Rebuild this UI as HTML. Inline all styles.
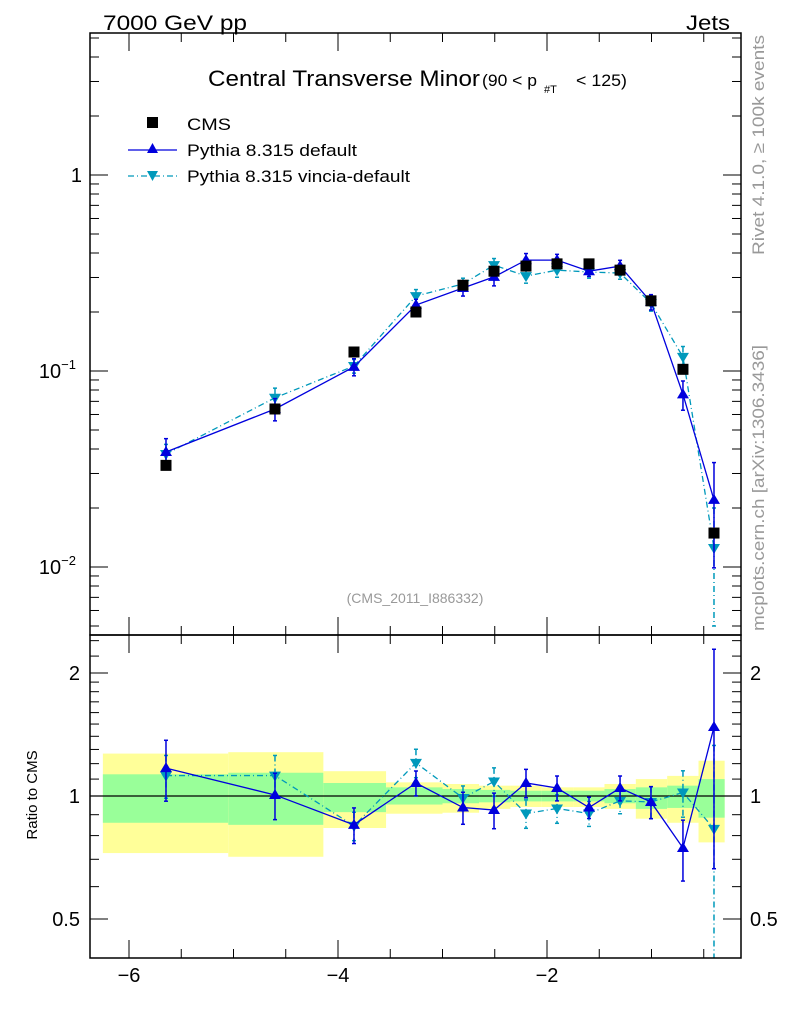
<!DOCTYPE html>
<html><head><meta charset="utf-8">
<style>
html,body{margin:0;padding:0;background:#fff;}
svg{display:block;font-family:"Liberation Sans",Arial,sans-serif;}
</style></head>
<body>
<svg id="chart" width="786" height="1024" viewBox="0 0 786 1024" xmlns="http://www.w3.org/2000/svg">
<text x="103" y="30" font-size="21" textLength="144" lengthAdjust="spacingAndGlyphs">7000 GeV pp</text>
<text x="686" y="30" font-size="21" textLength="44" lengthAdjust="spacingAndGlyphs">Jets</text>
<g>
<text x="208" y="86" font-size="22" textLength="272" lengthAdjust="spacingAndGlyphs">Central Transverse Minor</text>
<text x="482" y="86" font-size="17" textLength="55" lengthAdjust="spacingAndGlyphs">(90 &lt; p</text>
<text x="544" y="93" font-size="11">#T</text>
<text x="576" y="86" font-size="17" textLength="51" lengthAdjust="spacingAndGlyphs">&lt; 125)</text>
</g>
<text x="415" y="603" font-size="14" fill="#999" text-anchor="middle">(CMS_2011_I886332)</text>
<text transform="translate(764,255) rotate(-90)" font-size="17" fill="#999" textLength="220" lengthAdjust="spacingAndGlyphs">Rivet 4.1.0, ≥ 100k events</text>
<text transform="translate(764,631) rotate(-90)" font-size="17" fill="#999" textLength="286" lengthAdjust="spacingAndGlyphs">mcplots.cern.ch [arXiv:1306.3436]</text>
<text transform="translate(37,795) rotate(-90)" font-size="15" text-anchor="middle">Ratio to CMS</text>
<g>
  <rect x="147" y="117" width="11" height="11" fill="#000"/>
  <text x="187" y="130" font-size="17" textLength="44" lengthAdjust="spacingAndGlyphs">CMS</text>
  <line x1="128" y1="150" x2="177" y2="150" stroke="#0000dd" stroke-width="1.3"/>
  <polygon points="152.5,143 158,153 147,153" fill="#0000dd"/>
  <text x="187" y="156" font-size="17" textLength="170" lengthAdjust="spacingAndGlyphs">Pythia 8.315 default</text>
  <line x1="128" y1="176" x2="177" y2="176" stroke="#0099bb" stroke-width="1.3" stroke-dasharray="6,3,1,3"/>
  <polygon points="147,171 158,171 152.5,181" fill="#0099bb"/>
  <text x="187" y="182" font-size="17" textLength="223" lengthAdjust="spacingAndGlyphs">Pythia 8.315 vincia-default</text>
</g>
<g id="plot"></g>
</svg>
<script>
const xCenters=[-5.646,-4.603,-3.847,-3.254,-2.804,-2.507,-2.201,-1.904,-1.598,-1.301,-1.005,-0.699,-0.402];
const binEdges=[-6.25,-5.05,-4.14,-3.54,-3.0,-2.65,-2.35,-2.05,-1.75,-1.45,-1.15,-0.85,-0.55,-0.30];
const cmsValues=[0.033,0.064,0.125,0.2,0.274,0.323,0.343,0.352,0.352,0.327,0.228,0.102,0.0149];
const defaultValues=[0.0386,0.064,0.105,0.217,0.265,0.302,0.368,0.368,0.323,0.343,0.225,0.076,0.022];
const vinciaValues=[0.0377,0.073,0.106,0.241,0.278,0.347,0.305,0.327,0.32,0.316,0.222,0.118,0.0125];
const defaultRatio=[1.17,1.006,0.85,1.076,0.937,0.924,1.076,1.046,0.937,1.046,0.967,0.746,1.475];
const vinciaRatio=[1.122,1.122,0.845,1.205,0.989,1.085,0.906,0.932,0.906,0.973,0.967,1.02,0.831];
const defaultErr=[0.17,0.13,0.1,0.07,0.09,0.1,0.08,0.07,0.06,0.07,0.09,0.17,0.55];
const vinciaErr=[0.12,0.12,0.08,0.08,0.07,0.08,0.08,0.08,0.07,0.07,0.09,0.13,0.6];
const yellowHi=[1.27,1.28,1.15,1.08,1.07,1.06,1.06,1.05,1.05,1.07,1.10,1.12,1.22];
const yellowLo=[0.725,0.71,0.835,0.905,0.91,0.93,0.94,0.94,0.94,0.93,0.88,0.86,0.77];
const greenHi=[1.13,1.14,1.076,1.05,1.04,1.035,1.03,1.03,1.03,1.04,1.05,1.06,1.1];
const greenLo=[0.86,0.85,0.913,0.953,0.96,0.965,0.97,0.97,0.97,0.96,0.93,0.935,0.885];

const NS='http://www.w3.org/2000/svg';
const g=document.getElementById('plot');
const L=90,R=741,T1=33,B1=635,T2=635,B2=958;
const X=v=>129+(v+6)*104.5;
const Y1=v=>175-Math.log10(v)*196;
const Y2=v=>796-Math.log10(v)*408.6;
function mk(tag,attrs,parent){const e=document.createElementNS(NS,tag);for(const k in attrs)e.setAttribute(k,attrs[k]);(parent||g).appendChild(e);return e;}

const defs=mk('defs',{});
const c1=mk('clipPath',{id:'c1'},defs);mk('rect',{x:L,y:T1,width:R-L,height:B1-T1},c1);
const c2=mk('clipPath',{id:'c2'},defs);mk('rect',{x:L,y:T2,width:R-L,height:B2-T2},c2);

const bands=mk('g',{'clip-path':'url(#c2)'});


for(let i=0;i<yellowHi.length;i++){
  const x0=X(binEdges[i]),x1=X(binEdges[i+1]);
  const y=mk('rect',{x:x0,y:Y2(yellowHi[i]),width:x1-x0,height:Y2(yellowLo[i])-Y2(yellowHi[i]),fill:'#ffff99'},bands);
  
  
  const gr=mk('rect',{x:x0,y:Y2(greenHi[i]),width:x1-x0,height:Y2(greenLo[i])-Y2(greenHi[i]),fill:'#99ff99'},bands);
  
  
}
mk('line',{x1:L,x2:R,y1:Y2(1),y2:Y2(1),stroke:'#000','stroke-width':1.3});

function series(vals,errs,yf,color,dash,up,clip,name){
  const s=mk('g',{'clip-path':clip});
  
  
  const pts=vals.map((v,i)=>X(xCenters[i])+','+yf(v)).join(' ');
  const pl=mk('polyline',{points:pts,fill:'none',stroke:color,'stroke-width':1.3},s);
  if(dash)pl.setAttribute('stroke-dasharray',dash);
  vals.forEach((v,i)=>{
    const x=X(xCenters[i]);const yt=yf(v*(1+errs[i]));const yb=yf(Math.max(v*(1-errs[i]),1e-4));
    const e=mk('line',{x1:x,x2:x,y1:yt,y2:yb,stroke:color,'stroke-width':1.5},s);
    if(dash)e.setAttribute('stroke-dasharray',dash);
    mk('line',{x1:x-2,x2:x+2,y1:yt,y2:yt,stroke:color,'stroke-width':1.5},s);
    mk('line',{x1:x-2,x2:x+2,y1:yb,y2:yb,stroke:color,'stroke-width':1.5},s);
    const y=yf(v);
    const p=mk('polygon',{points:up?`${x},${y-6} ${x+6},${y+4} ${x-6},${y+4}`:`${x-6},${y-4} ${x+6},${y-4} ${x},${y+6}`,fill:color},s);
    
    
  });
}
series(vinciaValues,vinciaErr,Y1,'#0099bb','6,3,1,3',false,'url(#c1)','vincia-series');
series(defaultValues,defaultErr,Y1,'#0000dd',null,true,'url(#c1)','default-series');
const cms=mk('g',{});


cmsValues.forEach((v,i)=>{
  const r=mk('rect',{x:X(xCenters[i])-5.5,y:Y1(v)-5.5,width:11,height:11,fill:'#000'},cms);
  
  
});
series(vinciaRatio,vinciaErr,Y2,'#0099bb','6,3,1,3',false,'url(#c2)','vincia-ratio-series');
series(defaultRatio,defaultErr,Y2,'#0000dd',null,true,'url(#c2)','default-ratio-series');

mk('rect',{x:L,y:T1,width:R-L,height:B1-T1,fill:'none',stroke:'#000','stroke-width':1.5});
mk('rect',{x:L,y:T2,width:R-L,height:B2-T2,fill:'none',stroke:'#000','stroke-width':1.5});

for(let v=-6.5;v<=-0.1;v+=0.5){
  const x=X(v);if(x<L||x>R)continue;
  const major=Math.abs(v-Math.round(v/2)*2)<1e-6;
  const len=major?18:9;
  [[T1,1],[B1,-1],[T2,1],[B2,-1]].forEach(([y,d])=>mk('line',{x1:x,x2:x,y1:y,y2:y+d*len,stroke:'#000','stroke-width':1}));
  if(major){const t=mk('text',{x:x,y:B2+24,'font-size':20,'text-anchor':'middle'});t.textContent='\u2212'+Math.abs(v);
    
    }
}
for(let k=-3;k<=1;k++){for(let m=1;m<=9;m++){
  const v=m*Math.pow(10,k);const y=Y1(v);if(y<T1||y>B1)continue;
  const len=m===1?18:9;
  mk('line',{x1:L,x2:L+len,y1:y,y2:y,stroke:'#000'});mk('line',{x1:R,x2:R-len,y1:y,y2:y,stroke:'#000'});
}}
const ylab=[[1,'1',''],[0.1,'10','\u22121'],[0.01,'10','\u22122']];
ylab.forEach(([v,b,e])=>{
  const t=mk('text',{x:e?76:82,y:Y1(v)+7,'font-size':20,'text-anchor':'end'});
  
  
  t.textContent=b;
  if(e){const ts=mk('tspan',{'font-size':13,dy:-9},t);ts.textContent=e;}
});
[0.4,0.5,0.6,0.7,0.8,0.9,1,1.1,1.2,1.3,1.4,1.5,1.6,1.7,1.8,1.9,2,2.2,2.4].forEach(v=>{
  const y=Y2(v);if(y<T2||y>B2)return;
  const len=(v===0.5||v===1||v===2)?18:9;
  mk('line',{x1:L,x2:L+len,y1:y,y2:y,stroke:'#000'});mk('line',{x1:R,x2:R-len,y1:y,y2:y,stroke:'#000'});
});
[[0.5,'0.5'],[1,'1'],[2,'2']].forEach(([v,s])=>{
  const a=mk('text',{x:80,y:Y2(v)+7,'font-size':20,'text-anchor':'end'});a.textContent=s;
  
  
  const b=mk('text',{x:750,y:Y2(v)+7,'font-size':20});b.textContent=s;
  
  
});
</script>
</body></html>
